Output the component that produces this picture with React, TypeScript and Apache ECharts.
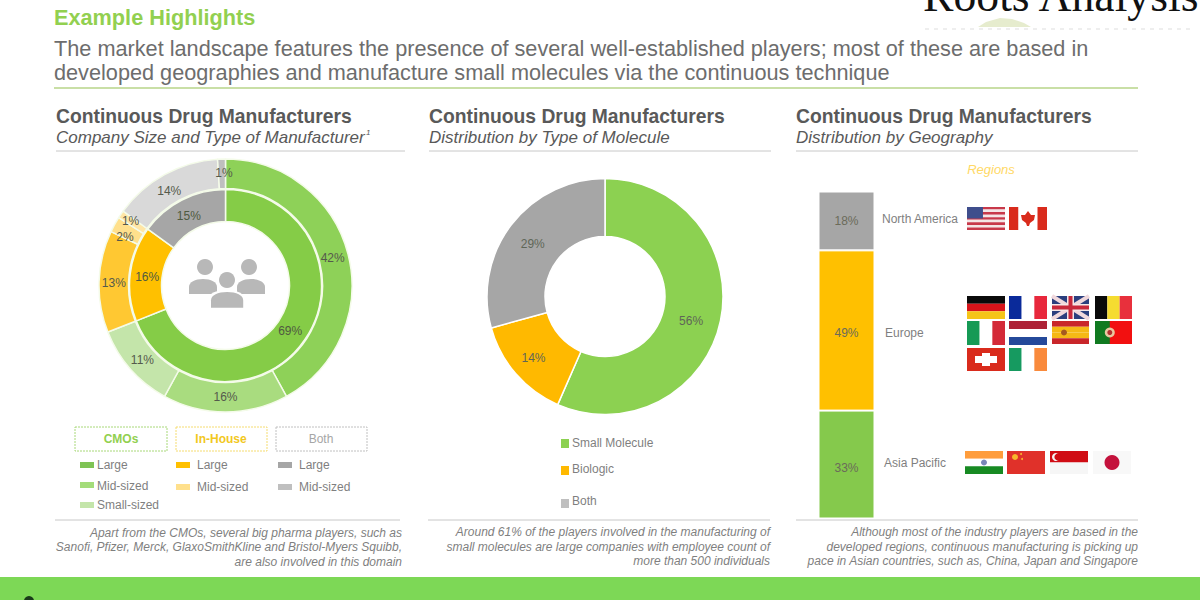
import React, { useEffect, useRef } from "react";
import * as echarts from "echarts";

const innerNames = ["CMOs", "In-House", "Both"];
const innerValues = [69, 16, 15];
const innerColors = ["#85cc47", "#ffc000", "#a6a6a6"];
const outerNames = ["CMO Large", "CMO Mid-sized", "CMO Small-sized", "In-House Large", "In-House Mid-sized", "In-House Small", "Both Large", "Both Mid-sized"];
const outerValues = [42, 16, 11, 13, 2, 1, 14, 1];
const outerColors = ["#8ed158", "#a9dc7f", "#c4e5aa", "#ffc832", "#ffe08c", "#ffe6a6", "#d9d9d9", "#bfbfbf"];
const moleculeNames = ["Small Molecule", "Biologic", "Both"];
const moleculeValues = [56, 14, 29];
const moleculeColors = ["#8cd151", "#ffb900", "#a6a6a6"];
const regionNames = ["Asia Pacific", "Europe", "North America"];
const regionValues = [33, 49, 18];
const regionColors = ["#85c94c", "#ffc000", "#a6a6a6"];

const SANS = '"Liberation Sans", Arial, sans-serif';
const GREY = "#7f7f7f";

echarts.graphic.registerShape("personBody", echarts.graphic.extendPath(
  "M0 15 L0 8 C0 3 6 0 14 0 C22 0 28 3 28 8 L28 15 Z", {}) as any);

const txt = (text: string, x: number, y: number, font: string, fill: string, textAlign = "left", z = 5) => ({
  type: "text", x, y, z, silent: true,
  style: { text, font: `${font} ${SANS}`, fill, textAlign, textVerticalAlign: "middle" },
});
const rect = (x: number, y: number, width: number, height: number, fill: string, z = 3) => ({
  type: "rect", z, silent: true, shape: { x, y, width, height }, style: { fill },
});
const line = (x1: number, x2: number, y: number, stroke: string, lineWidth = 1, lineDash?: number[]) => ({
  type: "line", z: 2, silent: true, shape: { x1, y1: y, x2, y2: y }, style: { stroke, lineWidth, lineDash },
});
const circle = (cx: number, cy: number, r: number, fill: string, z = 4) => ({
  type: "circle", z, silent: true, shape: { cx, cy, r }, style: { fill },
});
const hStripes = (x: number, y: number, w: number, h: number, cols: string[]) =>
  cols.map((c, i) => rect(x, y + (i * h) / cols.length, w, h / cols.length, c));
const vStripes = (x: number, y: number, w: number, h: number, cols: string[]) =>
  cols.map((c, i) => rect(x + (i * w) / cols.length, y, w / cols.length, h, c));
const poly = (points: number[][], fill: string, z = 4) => ({
  type: "polygon", z, silent: true, shape: { points }, style: { fill },
});
const segment = (x1: number, y1: number, x2: number, y2: number, stroke: string, lineWidth: number) => ({
  type: "line", z: 4, silent: true, shape: { x1, y1, x2, y2 }, style: { stroke, lineWidth },
});

function usaFlag(x: number, y: number, w: number, h: number) {
  const cols = Array.from({ length: 9 }, (_, i) => (i % 2 ? "#f4e6e6" : "#c8394a"));
  return [...hStripes(x, y, w, h, cols), rect(x, y, w * 0.42, h * 0.5, "#3f4e8c", 4)];
}
function canadaFlag(x: number, y: number, w: number, h: number) {
  return [
    ...vStripes(x, y, w, h, ["#d92b1c", "#ffffff", "#ffffff", "#d92b1c"]),
    poly([[x + 19, y + 4], [x + 22, y + 8], [x + 26, y + 8], [x + 25, y + 13], [x + 21, y + 16], [x + 20, y + 19], [x + 18, y + 19], [x + 17, y + 16], [x + 13, y + 13], [x + 12, y + 8], [x + 16, y + 8]], "#d92b1c"),
  ];
}
function ukFlag(x: number, y: number, w: number, h: number) {
  return [
    rect(x, y, w, h, "#2b3f7e"),
    segment(x, y, x + w, y + h, "#f0d8dc", 4),
    segment(x + w, y, x, y + h, "#f0d8dc", 4),
    rect(x + w / 2 - 3.5, y, 7, h, "#f4e6e6", 4),
    rect(x, y + h / 2 - 3.5, w, 7, "#f4e6e6", 4),
    rect(x + w / 2 - 2, y, 4, h, "#c8283c", 5),
    rect(x, y + h / 2 - 2, w, 4, "#c8283c", 5),
  ];
}
function spainFlag(x: number, y: number, w: number, h: number) {
  return [...hStripes(x, y, w, h, ["#c9262a", "#f5b915", "#f5b915", "#c9262a"]), circle(x + 12, y + h / 2, 3, "#a65a20")];
}
function portugalFlag(x: number, y: number, w: number, h: number) {
  return [rect(x, y, w, h, "#f21010"), rect(x, y, w * 0.4, h, "#107a20", 4), circle(x + w * 0.4, y + h / 2, 5, "#e8c8a0", 5), circle(x + w * 0.4, y + h / 2, 2.5, "#b03030", 6)];
}
function swissFlag(x: number, y: number, w: number, h: number) {
  return [rect(x, y, w, h, "#d92b1c"), rect(x + w / 2 - 4, y + 5, 8, h - 10, "#fff", 4), rect(x + 8, y + h / 2 - 3.5, w - 16, 7, "#fff", 4)];
}
function indiaFlag(x: number, y: number, w: number, h: number) {
  return [...hStripes(x, y, w, h, ["#ff9d3c", "#ffffff", "#178a22"]), circle(x + w / 2, y + h / 2, 3, "#7a86b8")];
}
function chinaFlag(x: number, y: number, w: number, h: number) {
  return [rect(x, y, w, h, "#e0312a"), circle(x + 8, y + 6, 3, "#f7b52c"), circle(x + 14, y + 3, 1, "#f7b52c"), circle(x + 15, y + 8, 1, "#f7b52c")];
}
function singaporeFlag(x: number, y: number, w: number, h: number) {
  return [rect(x, y, w, h / 2, "#d00c14"), rect(x, y + h / 2, w, h / 2, "#f6f6f6"), circle(x + 6, y + 6, 4, "#f4f4f4", 4), circle(x + 8, y + 6, 3.6, "#d00c14", 5)];
}
function japanFlag(x: number, y: number, w: number, h: number) {
  return [rect(x, y, w, h, "#f8f8f8"), circle(x + w / 2, y + h / 2, 7.5, "#c4123c")];
}

function buildGraphics() {
  const W = 38;
  const H1 = 23;
  return [
    // Header
    txt("Example Highlights", 54, 17, "bold 21.7px", "#92d050"),
    txt("The market landscape features the presence of several well-established players; most of these are based in", 54, 48, "21.7px", "#6d6d6d"),
    txt("developed geographies and manufacture small molecules via the continuous technique", 54, 72, "21.7px", "#6d6d6d"),
    line(54, 1138, 88, "#c9dfa6", 2),
    { type: "text", x: 923, y: 18, z: 5, silent: true, style: { text: "Roots Analysis", font: '45.7px "Liberation Serif", serif', fill: "#111111", textAlign: "left", textVerticalAlign: "bottom" } },
    poly([[978, 27], [986, 22], [1000, 18], [1012, 19], [1024, 23], [1031, 27]], "#e6ecce"),
    line(925, 1195, 29, "#dddddd", 1, [4, 5]),
    // Panel headings
    txt("Continuous Drug Manufacturers", 56, 116, "bold 19.3px", "#595959"),
    txt("Company Size and Type of Manufacturer", 56, 137, "italic 17px", "#595959"),
    txt("1", 366, 132, "italic 8px", "#595959"),
    txt("Continuous Drug Manufacturers", 429, 116, "bold 19.3px", "#595959"),
    txt("Distribution by Type of Molecule", 429, 137, "italic 17px", "#595959"),
    txt("Continuous Drug Manufacturers", 796, 116, "bold 19.3px", "#595959"),
    txt("Distribution by Geography", 796, 137, "italic 17px", "#595959"),
    line(56, 405, 151, "#c8c8c8"),
    line(429, 771, 151, "#c8c8c8"),
    line(796, 1138, 151, "#c8c8c8"),
    // People icon
    circle(205, 267, 8, "#b8b8b8"),
    circle(249, 267, 8, "#b8b8b8"),
    circle(227, 280, 8, "#b8b8b8"),
    { type: "personBody", x: 189, y: 279, z: 4, silent: true, style: { fill: "#b8b8b8" } },
    { type: "personBody", x: 237, y: 279, z: 4, silent: true, style: { fill: "#b8b8b8" } },
    { type: "personBody", x: 208, y: 290, z: 5, silent: true, scaleX: 1.32, scaleY: 1.2, style: { fill: "#ffffff" } },
    { type: "personBody", x: 211, y: 292, z: 6, silent: true, scaleX: 1.15, scaleY: 1.05, style: { fill: "#b8b8b8" } },
    // Legend, left panel
    { type: "rect", z: 3, silent: true, shape: { x: 75, y: 427, width: 92, height: 24 }, style: { fill: "#fff", stroke: "#a8d878", lineDash: [2, 1] } },
    { type: "rect", z: 3, silent: true, shape: { x: 176, y: 427, width: 91, height: 24 }, style: { fill: "#fff", stroke: "#f5dc70", lineDash: [2, 1] } },
    { type: "rect", z: 3, silent: true, shape: { x: 276, y: 427, width: 91, height: 24 }, style: { fill: "#fff", stroke: "#c0c0c0", lineDash: [2, 1] } },
    txt(innerNames[0], 121, 439, "bold 12px", "#92d050", "center"),
    txt(innerNames[1], 221, 439, "bold 12px", "#f2c81e", "center"),
    txt(innerNames[2], 321, 439, "12px", "#a6a6a6", "center"),
    rect(80, 462, 14, 6, "#7fc355"), txt("Large", 97, 465, "12px", GREY),
    rect(80, 482, 14, 6, "#a4dc7a"), txt("Mid-sized", 97, 486, "12px", GREY),
    rect(80, 502, 14, 6, "#c4e5aa"), txt("Small-sized", 97, 505, "12px", GREY),
    rect(176, 462, 14, 6, "#ffc000"), txt("Large", 197, 465, "12px", GREY),
    rect(176, 484, 14, 6, "#ffe08c"), txt("Mid-sized", 197, 487, "12px", GREY),
    rect(278, 462, 14, 6, "#a6a6a6"), txt("Large", 299, 465, "12px", GREY),
    rect(278, 484, 14, 6, "#bfbfbf"), txt("Mid-sized", 299, 487, "12px", GREY),
    // Legend, middle panel
    rect(561, 439, 8, 9, moleculeColors[0]), txt(moleculeNames[0], 572, 443, "12px", GREY),
    rect(561, 466, 8, 9, moleculeColors[1]), txt(moleculeNames[1], 572, 469, "12px", GREY),
    rect(561, 499, 8, 9, "#bfbfbf"), txt(moleculeNames[2], 572, 501, "12px", GREY),
    // Regions
    txt("Regions", 991, 169, "italic 13px", "#ffd966", "center"),
    txt(regionNames[2], 882, 219, "12px", GREY),
    txt(regionNames[1], 885, 333, "12px", GREY),
    txt(regionNames[0], 884, 463, "12px", GREY),
    ...usaFlag(967, 207, W, H1),
    ...canadaFlag(1009, 207, W, H1),
    ...hStripes(967, 296, W, H1, ["#0a0a0a", "#d8141a", "#f5c518"]),
    ...vStripes(1009, 296, W, H1, ["#0a2a9a", "#ffffff", "#e8283c"]),
    ...ukFlag(1052, 296, 37, H1),
    ...vStripes(1095, 296, 37, H1, ["#0a0a0a", "#f5dc30", "#e8303c"]),
    ...vStripes(967, 321, W, 24, ["#169a55", "#ffffff", "#d42a38"]),
    ...hStripes(1009, 321, W, 24, ["#ad2236", "#ffffff", "#24499a"]),
    ...spainFlag(1052, 321, 37, 23),
    ...portugalFlag(1095, 321, 37, 23),
    ...swissFlag(967, 348, W, H1),
    ...vStripes(1009, 348, W, H1, ["#169a60", "#ffffff", "#f98a3c"]),
    ...indiaFlag(965, 451, W, H1),
    ...chinaFlag(1007, 451, W, H1),
    ...singaporeFlag(1050, 451, W, H1),
    ...japanFlag(1093, 451, W, H1),
    // Notes
    line(55, 400, 520, "#c8c8c8"),
    line(428, 770, 520, "#c8c8c8"),
    line(796, 1138, 520, "#c8c8c8"),
    txt("Apart from the CMOs, several big pharma players, such as", 402, 533, "italic 12px", GREY, "right"),
    txt("Sanofi, Pfizer, Merck, GlaxoSmithKline and Bristol-Myers Squibb,", 402, 547, "italic 12px", GREY, "right"),
    txt("are also involved in this domain", 402, 562, "italic 12px", GREY, "right"),
    txt("Around 61% of the players involved in the manufacturing of", 770, 532, "italic 12px", GREY, "right"),
    txt("small molecules are large companies with employee count of", 770, 547, "italic 12px", GREY, "right"),
    txt("more than 500 individuals", 770, 561, "italic 12px", GREY, "right"),
    txt("Although most of the industry players are based in the", 1138, 532, "italic 12px", GREY, "right"),
    txt("developed regions, continuous manufacturing is picking up", 1138, 547, "italic 12px", GREY, "right"),
    txt("pace in Asian countries, such as, China, Japan and Singapore", 1138, 561, "italic 12px", GREY, "right"),
    // Footer band
    rect(0, 577, 1200, 23, "#7dd856", 1),
    circle(29, 601, 5, "#1a3a1a", 2),
  ];
}

const pieLabel = (color: string) => ({
  show: true, position: "inside" as const, formatter: "{c}%", fontSize: 12, fontFamily: SANS, color,
});
const toData = (names: string[], values: number[], colors: string[]) =>
  values.map((value, i) => ({ name: names[i], value, itemStyle: { color: colors[i] } }));
const nudge = (shifts: number[][]) => (params: any) => ({
  hideOverlap: false,
  dx: shifts[params.dataIndex][0],
  dy: shifts[params.dataIndex][1],
});
const pieBase = {
  type: "pie", startAngle: 90, clockwise: true, avoidLabelOverlap: false, silent: true,
  labelLine: { show: false }, itemStyle: { borderColor: "#f4fbe9", borderWidth: 1.5 },
};

export default function App() {
  const ref = useRef<HTMLDivElement>(null);
  useEffect(() => {
    const chart = echarts.init(ref.current!, undefined, { renderer: "svg" });
    chart.setOption({
      animation: false,
      backgroundColor: "#ffffff",
      grid: { left: 818.5, top: 191.5, width: 56, height: 327 },
      xAxis: { type: "category", data: ["Share"], show: false },
      yAxis: { type: "value", min: 0, max: 100, show: false },
      graphic: buildGraphics(),
      series: [
        {
          ...pieBase, name: "Outer", center: [225.5, 285.5], radius: [97, 126.5],
          data: toData(outerNames, outerValues, outerColors), label: pieLabel("#555a4c"),
          labelLayout: nudge([[-4, 1], [0, -3], [3, -1], [3, 1], [0, 7], [0, 0], [-1, 6], [2, 2]]),
        },
        {
          ...pieBase, name: "Inner", center: [225.5, 285.5], radius: [64, 96],
          data: toData(innerNames, innerValues, innerColors), label: pieLabel("#4f5a40"),
          labelLayout: nudge([[-4, -1], [4, 2], [1, 4]]),
        },
        {
          ...pieBase, name: "Molecule", center: [605, 296.5], radius: [60, 118],
          data: toData(moleculeNames, moleculeValues, moleculeColors), label: pieLabel("#5f6658"),
          itemStyle: { borderColor: "#ffffff", borderWidth: 1.5 },
          labelLayout: nudge([[-4, 6], [-2, 1], [1, 3]]),
        },
        ...regionNames.map((name, i) => ({
          type: "bar", name, stack: "geo", barWidth: "100%", silent: true,
          data: [regionValues[i]],
          itemStyle: { color: regionColors[i], borderColor: "#ffffff", borderWidth: 1 },
          label: { show: true, position: "inside", offset: [0, i === 2 ? 0 : 3], formatter: "{c}%", fontSize: 12, fontFamily: SANS, color: "#6b6b5a" },
        })),
      ],
    });
    return () => chart.dispose();
  }, []);
  return <div ref={ref} style={{ position: "absolute", left: 0, top: 0, width: 1200, height: 600 }} />;
}
